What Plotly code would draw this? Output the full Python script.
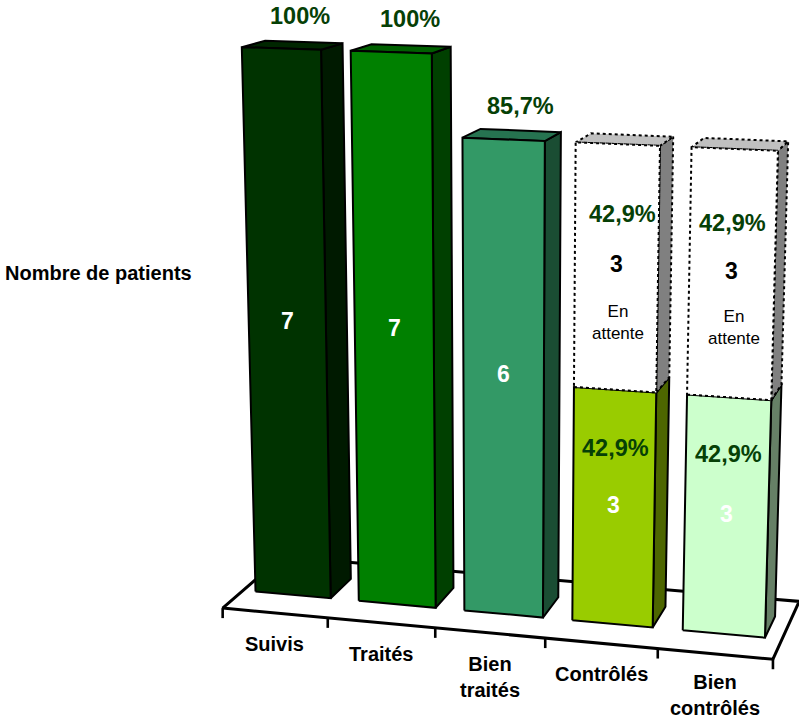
import numpy as np
import plotly.graph_objects as go

categories = ["Suivis", "Traités", "Bien<br>traités", "Contrôlés", "Bien<br>contrôlés"]
done = [7, 7, 6, 3, 3]
waiting = [0, 0, 0, 3, 3]
pct_done = ["100%", "100%", "85,7%", "42,9%", "42,9%"]
pct_wait = ["", "", "", "42,9%", "42,9%"]
front_cols = ["#003300", "#008000", "#339966", "#99CC00", "#CCFFCC"]
side_cols = ["#001A00", "#004000", "#1A4D33", "#4D6600", "#668066"]
top_cols = ["#002600", "#006000", "#267350", "#739900", "#99BF99"]
waiting_note = "En<br>attente"

# Perspective camera: (category position, value, depth) -> page pixels
CAM = np.array([
    [101.45316379, -3.84815830, 78.95640170, 222.65911524],
    [2.88688640, -79.74116767, -13.86690066, 608.10807158],
    [-0.01113224, -0.00763892, 0.06778058, 1.0],
])
L, R, DF, DB = .12, .85, .33, .7


def proj(u, v, d):
    h = CAM @ np.array([u, v, d, 1.0])
    return h[0] / h[2], h[1] / h[2]


fig = go.Figure()


def poly(pts, fill, dash="solid", width=2):
    xy = [proj(*p) for p in pts]
    xy.append(xy[0])
    fig.add_trace(go.Scatter(x=[p[0] for p in xy], y=[p[1] for p in xy], mode="lines", fill="toself",
                             fillcolor=fill, line=dict(color="black", width=width, dash=dash),
                             hoverinfo="skip", showlegend=False))


def line(pts, width=3):
    fig.add_trace(go.Scatter(x=[proj(*p)[0] for p in pts], y=[proj(*p)[1] for p in pts], mode="lines",
                             line=dict(color="black", width=width), hoverinfo="skip", showlegend=False))


line([(0, 0, 1), (0, 0, 0), (5, 0, 0), (5, 0, 1), (0, 0, 1)])
for i in range(6):
    x, y = proj(i, 0, 0)
    fig.add_trace(go.Scatter(x=[x, x], y=[y, y + 10], mode="lines", line=dict(color="black", width=2.6),
                             hoverinfo="skip", showlegend=False))

DASH = "3px,3px"


def box(i, v0, v1, front, side, top, dash="solid"):
    l, r = i + L, i + R
    poly([(r, v0, DF), (r, v0, DB), (r, v1, DB), (r, v1, DF)], side, dash)
    poly([(l, v1, DF), (r, v1, DF), (r, v1, DB), (l, v1, DB)], top, dash)
    poly([(l, v0, DF), (r, v0, DF), (r, v1, DF), (l, v1, DF)], front, dash)


ann = []


def label(x, y, text, size, color, bold=True):
    ann.append(dict(x=x, y=y, text=f"<b>{text}</b>" if bold else text, showarrow=False, xref="x", yref="y",
                    font=dict(size=size, color=color, family="Liberation Sans"), xanchor="center", yanchor="middle"))


PCT = "#064006"
mid = (L + R) / 2
for i in range(5):
    box(i, 0, done[i], front_cols[i], side_cols[i], top_cols[i])
    if waiting[i]:
        box(i, done[i], done[i] + waiting[i], "#FFFFFF", "#808080", "#C0C0C0", DASH)
        x, y = proj(i + mid, done[i] + waiting[i] * .5, DF)
        label(x, y - 4, str(waiting[i]), 23, "black")
        label(x + (6 if i == 3 else 1), y - 54 + (0 if i == 3 else 2), pct_wait[i], 23.5, PCT)
        label(x + 2, y + 54 - (0 if i == 3 else 1), waiting_note, 17, "black", bold=False)
        x, y = proj(i + mid, done[i] / 2, DF)
        label(x, y - 3, str(done[i]), 23, "white")
        label(x + 2, y - 60 + (0 if i == 3 else -3), pct_done[i], 23.5, PCT)
    else:
        x, y = proj(i + mid, done[i] / 2, DF)
        label(x, y - 8, str(done[i]), 23, "white")
        x, y = proj(i + mid, done[i], DF)
        label(x + (19 if i < 2 else 17), y - 33, pct_done[i], 23.5, PCT)

for i, c in enumerate(categories):
    x, y = proj(i + .5, 0, 0)
    two = "<br>" in c
    label(x, y + (31 if not two else 44 if i < 4 else 41), c, 20, "black")

ann.append(dict(x=3, y=273, text="<b>Nombre de patients</b>", showarrow=False, xref="x", yref="y",
                xanchor="left", yanchor="middle", font=dict(size=20, color="black", family="Liberation Sans")))

fig.update_layout(width=799, height=720, margin=dict(l=0, r=0, t=0, b=0), plot_bgcolor="white", paper_bgcolor="white",
                  xaxis=dict(range=[0, 799], visible=False), yaxis=dict(range=[720, 0], visible=False),
                  annotations=ann, showlegend=False)
fig.write_html("out.html", config=dict(displayModeBar=False),
               post_script="document.body.style.margin='0';document.body.style.overflow='hidden';")
